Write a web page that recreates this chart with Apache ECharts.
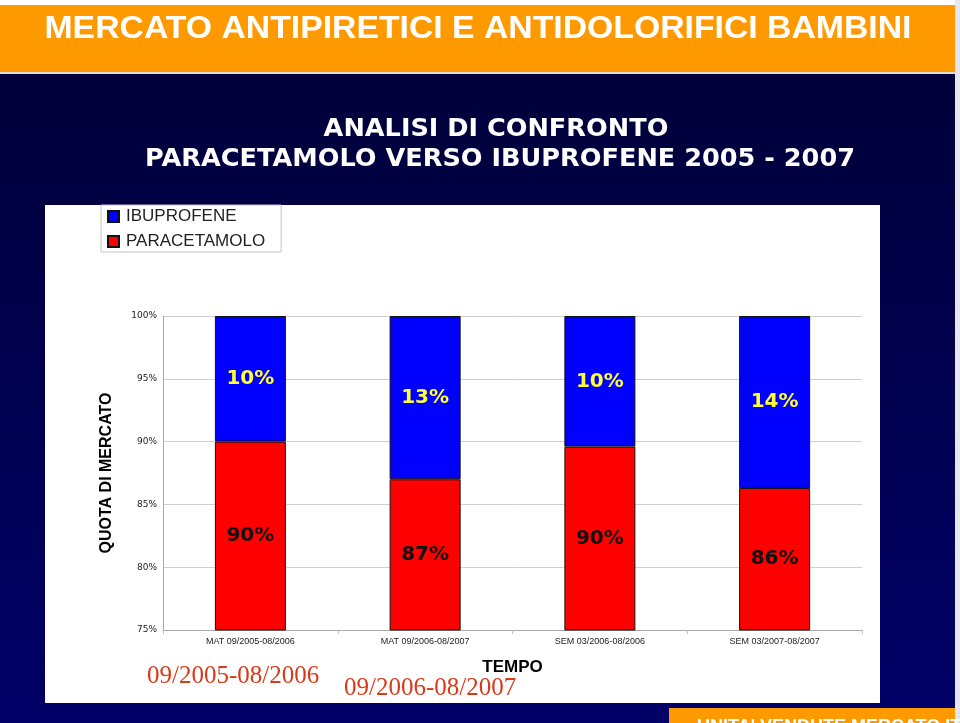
<!DOCTYPE html>
<html>
<head>
<meta charset="utf-8">
<script src="https://cdn.jsdelivr.net/npm/echarts@6/dist/echarts.min.js"></script>
<style>html,body{margin:0;padding:0;background:#fff;}#c{width:960px;height:723px;}</style>
</head>
<body>
<div id="c"></div>
<script>
const categories = ['MAT 09/2005-08/2006', 'MAT 09/2006-08/2007', 'SEM 03/2006-08/2006', 'SEM 03/2007-08/2007'];
const paracetamolo = [90, 87, 89.6, 86.3];
const ibuprofene = [10, 13, 10.4, 13.7];
const yTicks = [75, 80, 85, 90, 95, 100];

const mainTitle = 'MERCATO ANTIPIRETICI E ANTIDOLORIFICI BAMBINI';
const sub1 = 'ANALISI DI CONFRONTO';
const sub2 = 'PARACETAMOLO VERSO IBUPROFENE 2005 - 2007';

function measure(text, font) {
  const ctx = document.createElement('canvas').getContext('2d');
  ctx.font = font;
  return ctx.measureText(text).width;
}
const mainFont = 'bold 31px "Liberation Sans"';
const mainScale = 867 / measure(mainTitle, mainFont);
const subFont = 'bold 24px "DejaVu Sans"';
const subScale = 710 / measure(sub2, subFont);

const chart = echarts.init(document.getElementById('c'));
const option = {
  backgroundColor: '#ffffff',
  animation: false,
  graphic: [
    { type: 'rect', z: -100, shape: { x: 0, y: 5, width: 955, height: 67 }, style: { fill: '#ff9900' } },
    { type: 'rect', z: -100, shape: { x: 0, y: 72, width: 955, height: 2 }, style: { fill: '#e0dcd8' } },
    { type: 'rect', z: -100, shape: { x: 0, y: 74, width: 955, height: 649 },
      style: { fill: new echarts.graphic.LinearGradient(0, 0, 0, 1, [
        { offset: 0, color: '#00003a' }, { offset: 1, color: '#000068' }]) } },
    { type: 'rect', z: -100, shape: { x: 955, y: 0, width: 5, height: 723 }, style: { fill: '#e6e6ee' } },
    { type: 'rect', z: -90, shape: { x: 45, y: 205, width: 835, height: 498 }, style: { fill: '#ffffff' } },
    { type: 'rect', z: -90, shape: { x: 669, y: 708, width: 286, height: 15 }, style: { fill: '#ff9900' } },
    { type: 'text', z: 100, x: 478, y: 29, scaleX: mainScale,
      style: { text: mainTitle, font: mainFont, fill: '#ffffff', align: 'center', verticalAlign: 'middle' } },
    { type: 'text', z: 100, x: 496, y: 130, scaleX: subScale,
      style: { text: sub1, font: subFont, fill: '#ffffff', align: 'center', verticalAlign: 'middle' } },
    { type: 'text', z: 100, x: 500, y: 160, scaleX: subScale,
      style: { text: sub2, font: subFont, fill: '#ffffff', align: 'center', verticalAlign: 'middle' } },
    { type: 'text', z: 100, x: 147, y: 676,
      style: { text: '09/2005-08/2006', font: 'normal 25px "Liberation Serif"', fill: '#d83a1a', align: 'left', verticalAlign: 'middle' } },
    { type: 'text', z: 100, x: 344, y: 688,
      style: { text: '09/2006-08/2007', font: 'normal 25px "Liberation Serif"', fill: '#d83a1a', align: 'left', verticalAlign: 'middle' } },
    { type: 'text', z: 100, x: 697, y: 718,
      style: { text: "UNITA' VENDUTE MERCATO ITALIANO", font: 'bold 18px "Liberation Sans"', fill: '#ffffff', align: 'left', verticalAlign: 'top' } }
  ],
  legend: {
    data: ['IBUPROFENE', 'PARACETAMOLO'],
    orient: 'vertical',
    left: 101, top: 205,
    padding: [3, 16, 2, 6],
    itemWidth: 11, itemHeight: 11, itemGap: 8,
    backgroundColor: '#ffffff',
    borderColor: '#c4c4c4', borderWidth: 1,
    icon: 'rect',
    textStyle: { fontFamily: 'Liberation Sans', fontSize: 17, color: '#222', padding: [0, 0, 0, 2] },
    selectedMode: false
  },
  grid: { left: 163, right: 98, top: 316, bottom: 93 },
  xAxis: {
    type: 'category',
    data: categories,
    name: 'TEMPO',
    nameLocation: 'middle',
    nameGap: 29,
    nameTextStyle: { fontFamily: 'Liberation Sans', fontWeight: 'bold', fontSize: 17, color: '#000' },
    axisLine: { show: true, lineStyle: { color: '#a8a8a8' } },
    axisTick: { show: true, length: 4, interval: 0, lineStyle: { color: '#c0c0c0' } },
    axisLabel: { fontFamily: 'Liberation Sans', fontSize: 9, color: '#222', margin: 7, interval: 0 }
  },
  yAxis: {
    type: 'value',
    min: 75, max: 100, interval: 5,
    name: 'QUOTA DI MERCATO',
    nameLocation: 'middle',
    nameRotate: 90,
    nameGap: 48,
    nameTextStyle: { fontFamily: 'Liberation Sans', fontWeight: 'bold', fontSize: 16, color: '#000' },
    axisLine: { show: true, lineStyle: { color: '#a8a8a8' } },
    axisTick: { show: false },
    axisLabel: {
      fontFamily: 'DejaVu Sans', fontSize: 9, color: '#222', margin: 6,
      formatter: function (v) { return yTicks.indexOf(v) >= 0 ? v + '%' : ''; }
    },
    splitLine: { show: true, lineStyle: { color: '#cfcfcf' } }
  },
  series: [
    {
      name: 'PARACETAMOLO', type: 'bar', stack: 'tot', data: paracetamolo,
      barWidth: 71, clip: true,
      itemStyle: { color: '#ff0000', borderColor: '#111', borderWidth: 1 },
      label: { show: true, position: 'inside', fontFamily: 'DejaVu Sans', fontWeight: 'bold', fontSize: 20, color: '#111',
        formatter: function (p) { return Math.round(p.value) + '%'; } }
    },
    {
      name: 'IBUPROFENE', type: 'bar', stack: 'tot', data: ibuprofene,
      barWidth: 71, clip: true,
      itemStyle: { color: '#0000ff', borderColor: '#111', borderWidth: 1 },
      label: { show: true, position: 'inside', fontFamily: 'DejaVu Sans', fontWeight: 'bold', fontSize: 20, color: '#ffff33',
        formatter: function (p) { return Math.round(p.value) + '%'; } }
    }
  ]
};
chart.setOption(option);
</script>
</body>
</html>
